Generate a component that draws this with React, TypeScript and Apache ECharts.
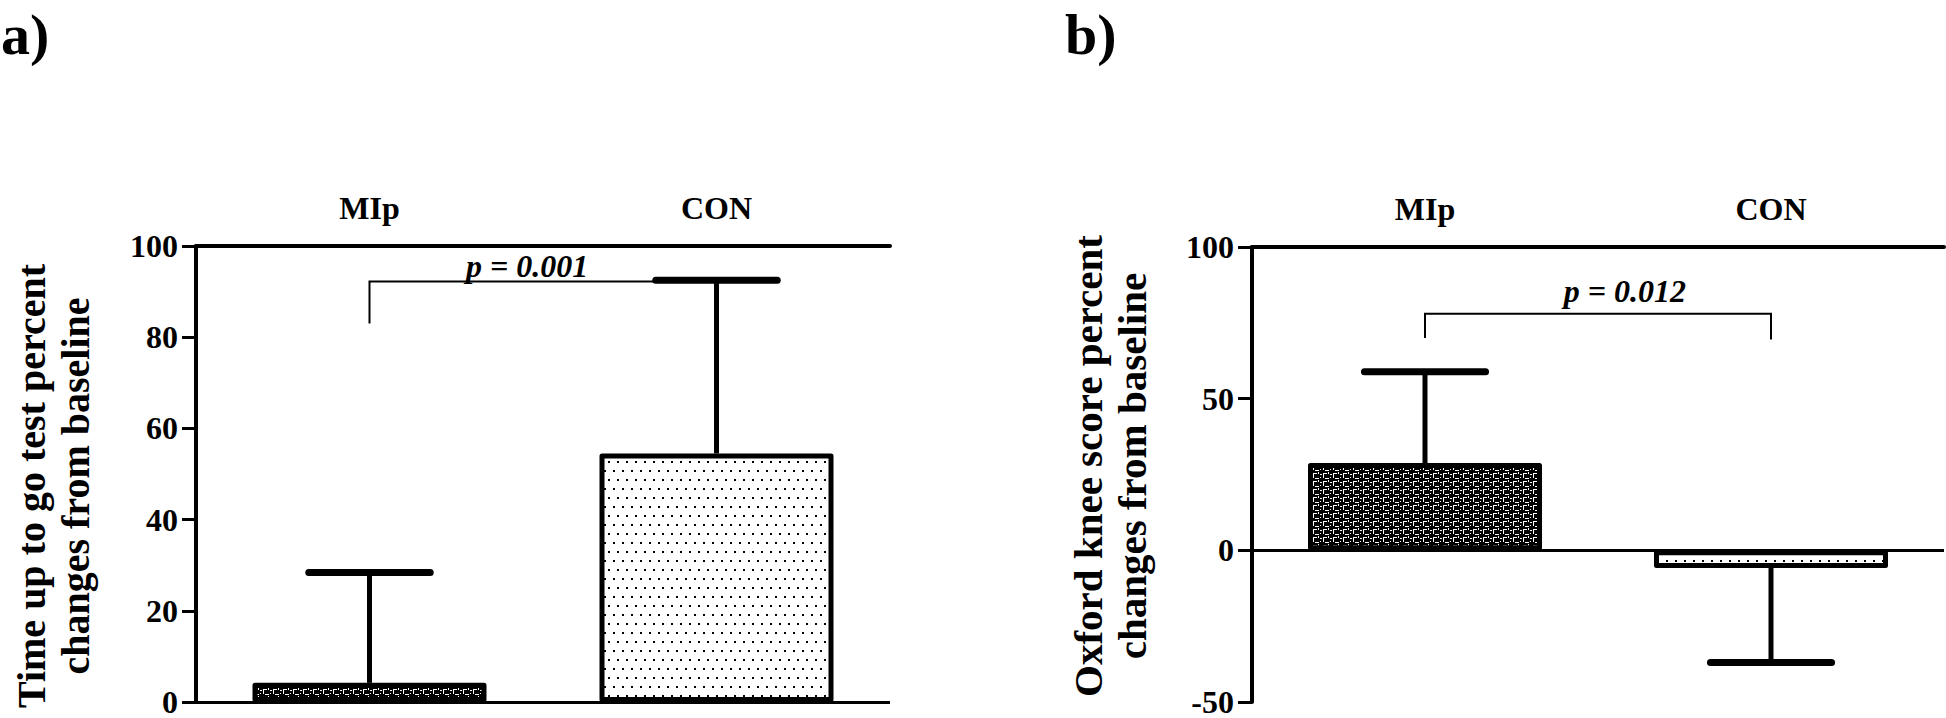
import React, { useEffect, useRef } from 'react';
import * as echarts from 'echarts';

const categories = ['MIp', 'CON'];
const tugMean = [4.2, 54.5];
const tugSD = [24.2, 38.0];
const oksMean = [28.8, -5.8];
const oksSD = [30.1, 31.2];
// bracket: [left foot, bar level, right foot]
const tugBracket = [83, 92.2, 92.2];
const oksBracket = [70, 78, 69.5];
const pLabels = ['p = 0.001', 'p = 0.012'];
const pLabelY = [95.6, 85.6];
const pLabelPos = [0.454, 0.578];
const panelLabels = ['a)', 'b)'];
const yTitles = [
  'Time up to go test percent\nchanges from baseline',
  'Oxford knee score percent\nchanges from baseline',
];

const FONT = '"Liberation Serif", "Times New Roman", serif';

function makePattern(kind: string) {
  const c = document.createElement('canvas');
  const ctx = c.getContext('2d')!;
  if (kind === 'brick') {
    c.width = 10;
    c.height = 8;
    ctx.fillStyle = '#000';
    ctx.fillRect(0, 0, 10, 8);
    ctx.fillStyle = '#fff';
    ctx.fillRect(0, 2, 2, 1);
    ctx.fillRect(3, 1, 1, 5);
    ctx.fillRect(3, 1, 4, 1);
    ctx.fillRect(8, 0, 1, 2);
    ctx.fillRect(5, 6, 4, 1);
    ctx.fillRect(0, 5, 1, 1);
  } else {
    c.width = 9;
    c.height = 18;
    ctx.fillStyle = '#fff';
    ctx.fillRect(0, 0, 9, 18);
    ctx.fillStyle = '#000';
    ctx.fillRect(1, 2, 2, 2);
    ctx.fillRect(5, 11, 2, 2);
  }
  return {
    image: c.toDataURL(),
    repeat: 'repeat',
    imageWidth: c.width,
    imageHeight: c.height,
  };
}

function errorRender(params: any, api: any) {
  const x = api.value(0);
  const m = api.value(1);
  const e = api.value(2);
  const p0 = api.coord([x, m]);
  const p1 = api.coord([x, e]);
  const half = api.size([1, 0])[0] * 0.175;
  return {
    type: 'group',
    children: [
      {
        type: 'line',
        shape: { x1: p0[0], y1: p0[1], x2: p1[0], y2: p1[1] },
        style: { stroke: '#000', lineWidth: 5 },
      },
      {
        type: 'line',
        shape: { x1: p1[0] - half, y1: p1[1], x2: p1[0] + half, y2: p1[1] },
        style: { stroke: '#000', lineWidth: 7, lineCap: 'round' },
      },
    ],
  };
}

function makeBracketRender(br: number[], label: string, labelY: number, pos: number) {
  return (params: any, api: any) => {
    const a0 = api.coord([0, br[0]]);
    const a1 = api.coord([0, br[1]]);
    const b1 = api.coord([1, br[1]]);
    const b0 = api.coord([1, br[2]]);
    const ly = api.coord([0, labelY])[1];
    const lx = a1[0] + (b1[0] - a1[0]) * pos;
    return {
      type: 'group',
      children: [
        {
          type: 'polyline',
          shape: { points: [a0, a1, b1, b0] },
          style: { stroke: '#000', lineWidth: 2, fill: 'none' },
        },
        {
          type: 'text',
          style: {
            text: label,
            x: lx,
            y: ly,
            align: 'center',
            verticalAlign: 'middle',
            fill: '#000',
            fontSize: 32,
            fontWeight: 'bold',
            fontStyle: 'italic',
            fontFamily: FONT,
          },
        },
      ],
    };
  };
}

export default function App() {
  const ref = useRef<HTMLDivElement>(null);
  useEffect(() => {
    document.body.style.margin = '0';
    const chart = echarts.init(ref.current!, null, { renderer: 'svg' });
    const brick = makePattern('brick');
    const dots = makePattern('dots');
    const fills = [brick, dots];

    const xAxisCommon = (gridIndex: number) => ({
      type: 'category',
      gridIndex,
      data: categories,
      position: 'top',
      boundaryGap: true,
      axisLine: { onZero: false, lineStyle: { color: '#000', width: 4 } },
      axisTick: { alignWithLabel: true, length: 13, lineStyle: { color: '#000', width: 3 } },
      axisLabel: {
        color: '#000',
        fontSize: 32,
        fontWeight: 'bold',
        fontFamily: FONT,
        margin: 22,
      },
      splitLine: { show: false },
    });
    const yAxisCommon = (gridIndex: number, min: number, max: number, interval: number) => ({
      type: 'value',
      gridIndex,
      min,
      max,
      interval,
      axisLine: { show: true, lineStyle: { color: '#000', width: 4 } },
      axisTick: { show: true, length: 14, lineStyle: { color: '#000', width: 3 } },
      axisLabel: {
        color: '#000',
        fontSize: 32,
        lineHeight: 22,
        fontWeight: 'bold',
        fontFamily: FONT,
        margin: 18,
      },
      splitLine: { show: false },
    });

    const zeroLine = {
      silent: true,
      symbol: ['none', 'none'],
      label: { show: false },
      lineStyle: { color: '#000', width: 3, type: 'solid' },
      data: [{ yAxis: 0 }],
    };

    const barSeries = (idx: number, means: number[]) => ({
      type: 'bar',
      xAxisIndex: idx,
      yAxisIndex: idx,
      barWidth: 234,
      z: 2,
      data: means.map((v, i) => ({
        value: v,
        itemStyle: {
          color: fills[i],
          borderColor: '#000',
          borderWidth: 5,
          borderJoin: 'round',
        },
      })),
      markLine: zeroLine,
    });

    const errSeries = (idx: number, means: number[], sds: number[]) => ({
      type: 'custom',
      xAxisIndex: idx,
      yAxisIndex: idx,
      z: 5,
      silent: true,
      data: means.map((m, i) => [i, m, m >= 0 ? m + sds[i] : m - sds[i]]),
      renderItem: errorRender,
    });

    const bracketSeries = (idx: number, br: number[], label: string, ly: number, pos: number) => ({
      type: 'custom',
      xAxisIndex: idx,
      yAxisIndex: idx,
      z: 4,
      silent: true,
      data: [[0, br[1]]],
      renderItem: makeBracketRender(br, label, ly, pos),
    });

    const titleStyle = (text: string, size: number) => ({
      text,
      align: 'center',
      verticalAlign: 'middle',
      lineHeight: 44,
      fill: '#000',
      fontSize: size,
      fontWeight: 'bold',
      fontFamily: FONT,
    });

    const panelStyle = (text: string) => ({
      text,
      verticalAlign: 'middle',
      fill: '#000',
      fontSize: 58,
      fontWeight: 'bold',
      fontFamily: FONT,
    });

    chart.setOption({
      animation: false,
      backgroundColor: '#fff',
      grid: [
        { left: 196, width: 694, top: 246, height: 460 },
        { left: 1252, width: 692, top: 247, height: 457 },
      ],
      xAxis: [xAxisCommon(0), xAxisCommon(1)],
      yAxis: [yAxisCommon(0, 0, 100, 20), yAxisCommon(1, -50, 100, 50)],
      series: [
        barSeries(0, tugMean),
        errSeries(0, tugMean, tugSD),
        bracketSeries(0, tugBracket, pLabels[0], pLabelY[0], pLabelPos[0]),
        barSeries(1, oksMean),
        errSeries(1, oksMean, oksSD),
        bracketSeries(1, oksBracket, pLabels[1], pLabelY[1], pLabelPos[1]),
      ],
      graphic: [
        { type: 'text', x: 1, y: 34, style: panelStyle(panelLabels[0]) },
        { type: 'text', x: 1065, y: 34, style: panelStyle(panelLabels[1]) },
        {
          type: 'text',
          x: 53,
          y: 486,
          rotation: Math.PI / 2,
          style: titleStyle(yTitles[0], 40),
        },
        {
          type: 'text',
          x: 1110,
          y: 466,
          rotation: Math.PI / 2,
          style: titleStyle(yTitles[1], 41),
        },
      ],
    });
    return () => chart.dispose();
  }, []);
  return <div ref={ref} style={{ width: 1946, height: 718 }} />;
}
